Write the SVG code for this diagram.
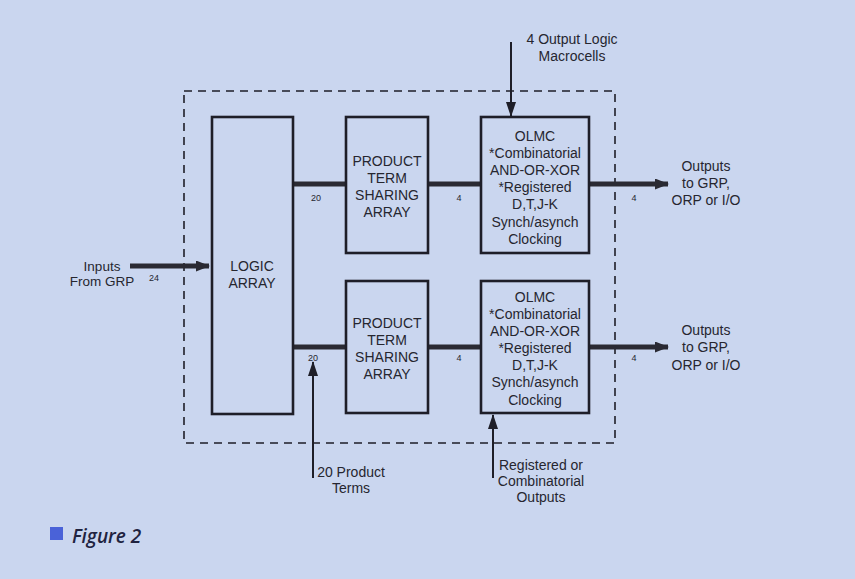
<svg xmlns="http://www.w3.org/2000/svg" width="855" height="579" viewBox="0 0 855 579">
<defs>
<style>
.box{fill:none;stroke:#1e1e28;stroke-width:2.6}
.bus{stroke:#2a2a33;stroke-width:5;fill:none}
.thin{stroke:#1e1e28;stroke-width:2;fill:none}
.dash{fill:none;stroke:#1e1e28;stroke-width:1.6;stroke-dasharray:8 6}
text{font-family:"Liberation Sans",Arial,sans-serif;fill:#26262f;text-anchor:middle}
.t{font-size:14px}
.n{font-size:9px}
</style>
<marker id="ah" markerWidth="14" markerHeight="11" refX="13" refY="5.5" orient="auto" markerUnits="userSpaceOnUse">
<path d="M0,0 L14,5.5 L0,11 Z" fill="#2a2a33"/>
</marker>
<marker id="ahs" markerWidth="15" markerHeight="10" refX="14" refY="5" orient="auto" markerUnits="userSpaceOnUse">
<path d="M0,0 L15,5 L0,10 Z" fill="#1e1e28"/>
</marker>
</defs>
<rect width="855" height="579" fill="#cad6ef"/>
<rect class="dash" x="184" y="91" width="431" height="352"/>
<g id="connectors">
<line class="bus" x1="130" y1="266" x2="209" y2="266" marker-end="url(#ah)"/>
<line class="bus" x1="293" y1="184" x2="346" y2="184"/>
<line class="bus" x1="428" y1="184" x2="481" y2="184"/>
<line class="bus" x1="589" y1="184" x2="668" y2="184" marker-end="url(#ah)"/>
<line class="bus" x1="293" y1="347" x2="346" y2="347"/>
<line class="bus" x1="428" y1="347" x2="481" y2="347"/>
<line class="bus" x1="589" y1="347" x2="668" y2="347" marker-end="url(#ah)"/>
<line class="thin" x1="511" y1="42" x2="511" y2="116" marker-end="url(#ahs)"/>
<line class="thin" x1="313" y1="478" x2="313" y2="362" marker-end="url(#ahs)"/>
<line class="thin" x1="493" y1="478" x2="493" y2="415" marker-end="url(#ahs)"/>
<text class="n" x="154" y="281">24</text>
<text class="n" x="316" y="201">20</text>
<text class="n" x="459" y="201">4</text>
<text class="n" x="634" y="201">4</text>
<text class="n" x="313" y="361">20</text>
<text class="n" x="459" y="361">4</text>
<text class="n" x="634" y="361">4</text>
</g>
<g id="logic-array">
<rect class="box" x="212" y="117" width="81" height="297"/>
<text class="t" x="252" y="271">LOGIC</text>
<text class="t" x="252" y="288">ARRAY</text>
</g>
<g id="ptsa-top">
<rect class="box" x="346" y="117" width="82" height="136"/>
<text class="t" x="387" y="166">PRODUCT</text>
<text class="t" x="387" y="183">TERM</text>
<text class="t" x="387" y="200">SHARING</text>
<text class="t" x="387" y="217">ARRAY</text>
</g>
<g id="ptsa-bottom">
<rect class="box" x="346" y="281" width="82" height="132"/>
<text class="t" x="387" y="328">PRODUCT</text>
<text class="t" x="387" y="345">TERM</text>
<text class="t" x="387" y="362">SHARING</text>
<text class="t" x="387" y="379">ARRAY</text>
</g>
<g id="olmc-top">
<rect class="box" x="481" y="117" width="108" height="136"/>
<text class="t" x="535" y="141">OLMC</text>
<text class="t" x="535" y="158">*Combinatorial</text>
<text class="t" x="535" y="175">AND-OR-XOR</text>
<text class="t" x="535" y="192">*Registered</text>
<text class="t" x="535" y="209">D,T,J-K</text>
<text class="t" x="535" y="227">Synch/asynch</text>
<text class="t" x="535" y="244">Clocking</text>
</g>
<g id="olmc-bottom">
<rect class="box" x="481" y="281" width="108" height="132"/>
<text class="t" x="535" y="302">OLMC</text>
<text class="t" x="535" y="319">*Combinatorial</text>
<text class="t" x="535" y="336">AND-OR-XOR</text>
<text class="t" x="535" y="353">*Registered</text>
<text class="t" x="535" y="370">D,T,J-K</text>
<text class="t" x="535" y="387">Synch/asynch</text>
<text class="t" x="535" y="405">Clocking</text>
</g>
<g id="inputs-label">
<text class="t" x="102" y="271" style="font-size:13.5px">Inputs</text>
<text class="t" x="102" y="286" style="font-size:13.5px">From GRP</text>
</g>
<g id="outputs-top-label">
<text class="t" x="706" y="171">Outputs</text>
<text class="t" x="706" y="188">to GRP,</text>
<text class="t" x="706" y="205">ORP or I/O</text>
</g>
<g id="outputs-bottom-label">
<text class="t" x="706" y="335">Outputs</text>
<text class="t" x="706" y="352">to GRP,</text>
<text class="t" x="706" y="370">ORP or I/O</text>
</g>
<g id="olmc-label">
<text class="t" x="572" y="44">4 Output Logic</text>
<text class="t" x="572" y="61">Macrocells</text>
</g>
<g id="product-terms-label">
<text class="t" x="351" y="477">20 Product</text>
<text class="t" x="351" y="493">Terms</text>
</g>
<g id="registered-label">
<text class="t" x="541" y="470">Registered or</text>
<text class="t" x="541" y="486">Combinatorial</text>
<text class="t" x="541" y="502">Outputs</text>
</g>
<g id="caption">
<rect x="50" y="527" width="13" height="13" fill="#4a62d8"/>
<text x="72" y="543" style="text-anchor:start;font-family:'Open Sans','Liberation Sans',sans-serif;font-style:italic;font-weight:600;font-size:19px;fill:#1f2340">Figure 2</text>
</g>
</svg>
